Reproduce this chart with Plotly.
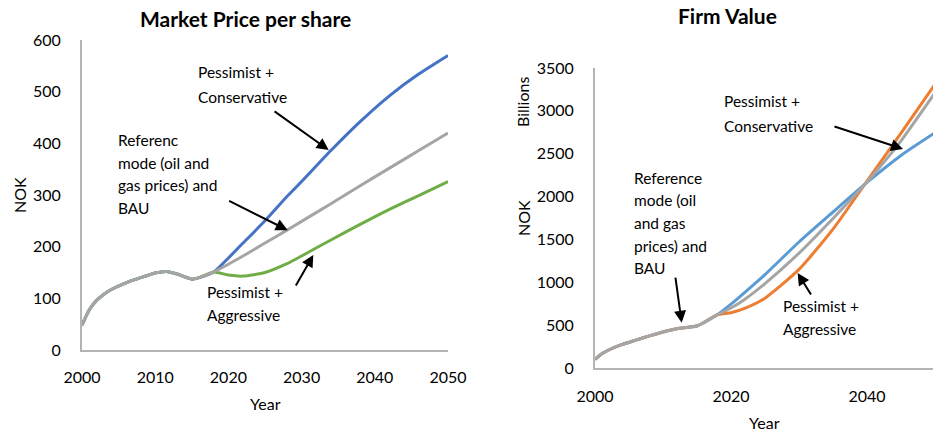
import plotly.graph_objects as go

# ---- Market Price per share (NOK) ----
price_hist_years = [2000, 2001, 2002, 2003, 2004, 2006, 2008, 2010, 2011.5, 2013, 2015, 2016, 2018]
price_history = [48, 78, 96, 108, 117, 130, 140, 149, 152, 147, 137, 140, 151]

price_future_years = [2020, 2022, 2025, 2028, 2030, 2034, 2038, 2042, 2046, 2050]
price_conservative = [178, 207, 250, 297, 326, 386, 442, 492, 534, 570]
price_reference = [166, 182, 207, 232, 249, 283, 318, 352, 386, 420]
price_aggressive = [145, 143, 150, 167, 182, 213, 243, 272, 299, 326]

# ---- Firm Value (NOK billions) ----
value_hist_years = [2000, 2001, 2002, 2004, 2006, 2008, 2010, 2012, 2014, 2015, 2016, 2018]
value_history = [100, 165, 210, 275, 325, 375, 420, 458, 478, 490, 530, 622]

value_future_years = [2020, 2022, 2025, 2030, 2035, 2040, 2045, 2050]
value_conservative = [745, 880, 1090, 1470, 1820, 2165, 2480, 2745]
value_reference = [700, 800, 985, 1340, 1745, 2170, 2650, 3210]
value_aggressive = [645, 695, 815, 1150, 1620, 2180, 2740, 3310]

W, H = 933, 431
FONT = "Lato, Calibri, Carlito, sans-serif"
AXIS_GREY = "#B4B4B4"


def px_x(p):
    return p / W


def px_y(p):
    return (H - p) / H


fig = go.Figure()


def add_line(xaxis, yaxis, hist_years, history, future_years, future, color):
    fig.add_trace(go.Scatter(
        x=hist_years + future_years, y=history + future, mode="lines",
        line=dict(color=color, width=3, shape="spline", smoothing=0.6),
        xaxis=xaxis, yaxis=yaxis, showlegend=False, hoverinfo="x+y"))


add_line("x", "y", price_hist_years, price_history, price_future_years, price_conservative, "#4472C4")
add_line("x", "y", price_hist_years, price_history, price_future_years, price_aggressive, "#70AD47")
add_line("x", "y", price_hist_years, price_history, price_future_years, price_reference, "#A5A5A5")

add_line("x2", "y2", value_hist_years, value_history, value_future_years, value_conservative, "#5B9BD5")
add_line("x2", "y2", value_hist_years, value_history, value_future_years, value_aggressive, "#ED7D31")
add_line("x2", "y2", value_hist_years, value_history, value_future_years, value_reference, "#A5A5A5")

tickfont = dict(family=FONT, size=16, color="#000000")
common_axis = dict(showgrid=False, zeroline=False, showline=True, linecolor=AXIS_GREY,
                   linewidth=2, tickfont=tickfont, ticks="outside", automargin=False,
                   tickcolor="rgba(0,0,0,0)", fixedrange=True)

fig.update_layout(
    width=W, height=H, margin=dict(l=0, r=0, t=0, b=0, autoexpand=False),
    paper_bgcolor="white", plot_bgcolor="white",
    font=dict(family=FONT, size=16, color="#000000"),
    xaxis=dict(domain=[px_x(82), px_x(448)], range=[2000, 2050],
               tickvals=[2000, 2010, 2020, 2030, 2040, 2050],
               anchor="y", ticklen=12, **common_axis),
    yaxis=dict(domain=[px_y(350), px_y(40)], range=[0, 600],
               tickvals=[0, 100, 200, 300, 400, 500, 600],
               anchor="x", ticklen=16, **common_axis),
    xaxis2=dict(domain=[px_x(595), 1.0], range=[2000, 2000 + (W - 595) / 6.8],
                tickvals=[2000, 2020, 2040], anchor="y2", ticklen=13, **common_axis),
    yaxis2=dict(domain=[px_y(368), px_y(68)], range=[0, 3500],
                tickvals=[0, 500, 1000, 1500, 2000, 2500, 3000, 3500],
                anchor="x2", ticklen=16, **common_axis),
)

annotations = []


def text(x, y, s, size=15.5, bold=False, angle=0, anchor="left"):
    annotations.append(dict(
        xref="paper", yref="paper", x=px_x(x), y=px_y(y), text=f"<b>{s}</b>" if bold else s,
        showarrow=False, xanchor=anchor, yanchor="middle", textangle=angle,
        font=dict(family=FONT, size=size, color="#000000")))


def arrow(xref, yref, tail, tip):
    annotations.append(dict(
        xref=xref, yref=yref, axref=xref, ayref=yref,
        x=tip[0], y=tip[1], ax=tail[0], ay=tail[1], text="",
        showarrow=True, arrowhead=2, arrowsize=1.2, arrowwidth=2, arrowcolor="#000000"))


# titles and axis titles
text(246, 19, "Market Price per share", size=21, bold=True, anchor="center")
text(727, 15, "Firm Value", size=21, bold=True, anchor="center")
text(265, 403, "Year", size=16, anchor="center")
text(764, 422, "Year", size=16, anchor="center")
text(19, 195, "NOK", size=16, angle=-90, anchor="center")
text(523, 218, "NOK", size=16, angle=-90, anchor="center")
text(523, 102, "Billions", size=16, angle=-90, anchor="center")

# left chart callouts
for i, s in enumerate(["Pessimist +", "Conservative"]):
    text(196, 72 + 25 * i, s)
for i, s in enumerate(["Referenc", "mode (oil and", "gas prices) and", "BAU"]):
    text(116, 140 + 22.5 * i, s)
for i, s in enumerate(["Pessimist +", "Aggressive"]):
    text(205, 292 + 23 * i, s)
arrow("x", "y", (2026.1, 464), (2033.7, 387))
arrow("x", "y", (2019.9, 290), (2028.1, 232))
arrow("x", "y", (2029.1, 122), (2031.6, 184))

# right chart callouts
for i, s in enumerate(["Pessimist +", "Conservative"]):
    text(722, 101 + 25 * i, s)
for i, s in enumerate(["Reference", "mode (oil", "and gas", "prices) and", "BAU"]):
    text(632, 178 + 22.5 * i, s)
for i, s in enumerate(["Pessimist +", "Aggressive"]):
    text(781, 306 + 23 * i, s)
arrow("x2", "y2", (2035.0, 2823), (2045.3, 2555))
arrow("x2", "y2", (2011.8, 1073), (2012.75, 528))
arrow("x2", "y2", (2031.9, 840), (2029.8, 1108))

fig.update_layout(annotations=annotations)
fig.write_html("out.html")
